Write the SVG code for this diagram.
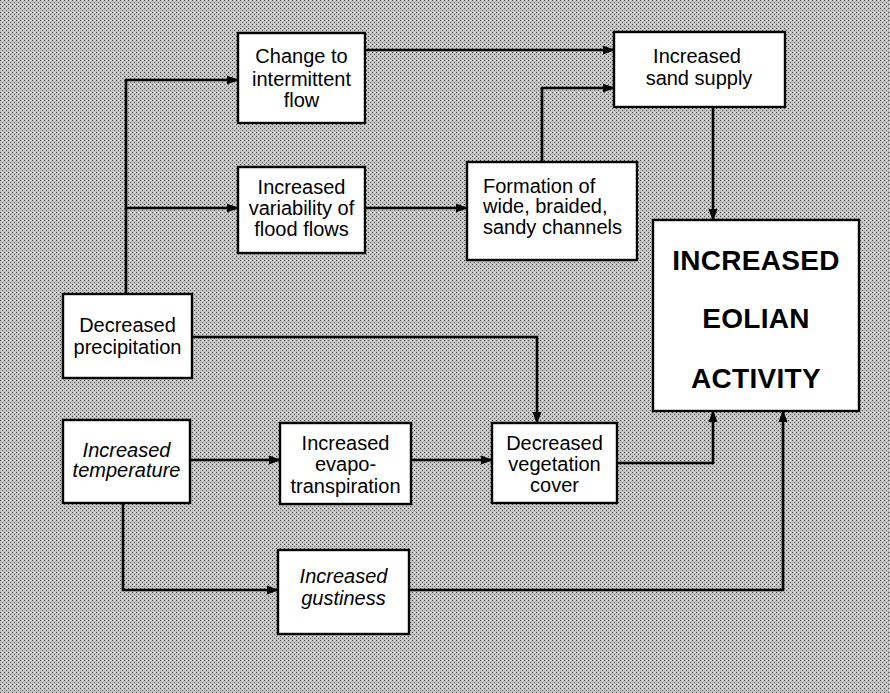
<svg xmlns="http://www.w3.org/2000/svg" width="890" height="693" viewBox="0 0 890 693">
<defs>
<marker id="arr" markerUnits="userSpaceOnUse" markerWidth="12" markerHeight="10" refX="11" refY="5" orient="auto">
<path d="M0,0.5 L12,5 L0,9.5 Z" fill="#000"/>
</marker>
<pattern id="stip" width="4" height="4" patternUnits="userSpaceOnUse">
<rect width="4" height="4" fill="#c2c2c2"/>
<rect x="0" y="0" width="1" height="1" fill="#444"/>
<rect x="2" y="2" width="1" height="1" fill="#666"/>
<rect x="2" y="0" width="1" height="1" fill="#e8e8e8"/>
</pattern>
</defs>
<style>
.box{fill:#fff;stroke:#000;stroke-width:2.4}
.t{font-family:"Liberation Sans",Arial,sans-serif;font-size:20px;fill:#000;text-anchor:middle}
.i{font-style:italic}
.l{text-anchor:start}
.big{font-family:"Liberation Sans",Arial,sans-serif;font-size:28px;font-weight:bold;fill:#000;text-anchor:middle;letter-spacing:0.3px}
.c{fill:none;stroke:#000;stroke-width:2.6;marker-end:url(#arr)}
</style>
<rect x="0" y="0" width="890" height="693" fill="url(#stip)"/>
<g id="connectors">
<path class="c" d="M126,294 V80 H238"/>
<path class="c" d="M126,208 H238"/>
<path class="c" d="M365,50 H614"/>
<path class="c" d="M365,208 H467"/>
<path class="c" d="M542,162 V88 H614"/>
<path class="c" d="M713,107 V220"/>
<path class="c" d="M192,337 H537 V423"/>
<path class="c" d="M190,460 H280"/>
<path class="c" d="M411,460 H492"/>
<path class="c" d="M617,463 H713 V411"/>
<path class="c" d="M123,503 V590 H278"/>
<path class="c" d="M409,590 H783 V411"/>
</g>
<g id="change">
<rect class="box" x="238" y="33" width="127" height="90"/>
<text class="t" x="301.5" y="63">Change to</text>
<text class="t" x="301.5" y="86">intermittent</text>
<text class="t" x="301.5" y="107">flow</text>
</g>
<g id="variability">
<rect class="box" x="238" y="167" width="127" height="86"/>
<text class="t" x="301.5" y="194">Increased</text>
<text class="t" x="301.5" y="215">variability of</text>
<text class="t" x="301.5" y="236">flood flows</text>
</g>
<g id="sand">
<rect class="box" x="614" y="32" width="171" height="75"/>
<text class="t" x="697" y="63">Increased</text>
<text class="t" x="699" y="85">sand supply</text>
</g>
<g id="formation">
<rect class="box" x="467" y="162" width="170" height="98"/>
<text class="t l" x="483" y="193">Formation of</text>
<text class="t l" x="483" y="213">wide, braided,</text>
<text class="t l" x="483" y="234">sandy channels</text>
</g>
<g id="eolian">
<rect class="box" x="653" y="220" width="206" height="191"/>
<text class="big" x="756" y="270">INCREASED</text>
<text class="big" x="756" y="328">EOLIAN</text>
<text class="big" x="756" y="388">ACTIVITY</text>
</g>
<g id="precipitation">
<rect class="box" x="63" y="294" width="129" height="84"/>
<text class="t" x="127.5" y="332">Decreased</text>
<text class="t" x="127.5" y="354">precipitation</text>
</g>
<g id="temperature">
<rect class="box" x="63" y="420" width="127" height="83"/>
<text class="t i" x="126.5" y="457">Increased</text>
<text class="t i" x="126.5" y="477">temperature</text>
</g>
<g id="evapo">
<rect class="box" x="280" y="423" width="131" height="81"/>
<text class="t" x="345.5" y="450">Increased</text>
<text class="t" x="345.5" y="471">evapo-</text>
<text class="t" x="345.5" y="493">transpiration</text>
</g>
<g id="vegetation">
<rect class="box" x="492" y="423" width="125" height="80"/>
<text class="t" x="554.5" y="450">Decreased</text>
<text class="t" x="554.5" y="471">vegetation</text>
<text class="t" x="554.5" y="492">cover</text>
</g>
<g id="gustiness">
<rect class="box" x="278" y="550" width="131" height="84"/>
<text class="t i" x="343.5" y="583">Increased</text>
<text class="t i" x="343.5" y="605">gustiness</text>
</g>
</svg>
